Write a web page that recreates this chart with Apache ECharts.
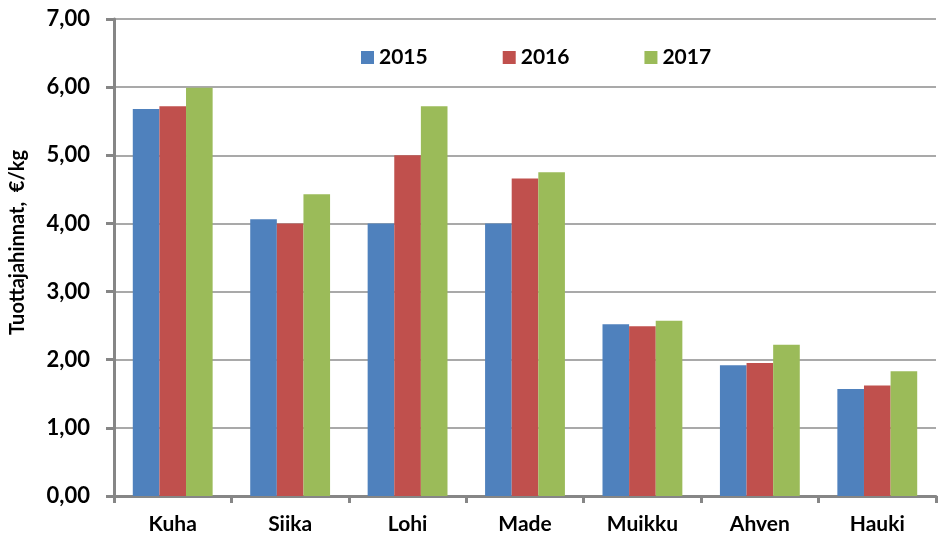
<!DOCTYPE html>
<html>
<head>
<meta charset="utf-8">
<script src="https://cdn.jsdelivr.net/npm/echarts@6/dist/echarts.min.js"></script>
<style>
  html, body { margin: 0; padding: 0; background: #fff; }
  #main { width: 939px; height: 537px; }
</style>
</head>
<body>
<div id="main"></div>
<script>
// kalalajit ja tuottajahinnat (€/kg)
var lajit = ["Kuha", "Siika", "Lohi", "Made", "Muikku", "Ahven", "Hauki"];
var vuodet = ["2015", "2016", "2017"];
var hinnat2015 = [5.68, 4.06, 4.00, 4.00, 2.52, 1.92, 1.57];
var hinnat2016 = [5.72, 4.00, 5.00, 4.66, 2.49, 1.95, 1.62];
var hinnat2017 = [5.99, 4.43, 5.72, 4.75, 2.57, 2.22, 1.83];
var varit = ["#4F81BD", "#C0504D", "#9BBB59"];

var fontti = "Lato, 'Open Sans', sans-serif";

var myChart = echarts.init(document.getElementById("main"));

function sarja(nimi, data) {
  return {
    name: nimi,
    type: "bar",
    data: data,
    barGap: "0%",
    barCategoryGap: "32%"
  };
}

var option = {
  animation: false,
  color: varit,
  textStyle: { fontFamily: fontti },
  grid: { left: 114, right: 3, top: 19, bottom: 41, containLabel: false },
  legend: {
    data: vuodet,
    left: 356,
    top: 42,
    itemWidth: 13,
    itemHeight: 13,
    itemGap: 75,
    icon: "rect",
    textStyle: { fontSize: 21, fontWeight: "bold", color: "#000", fontFamily: fontti }
  },
  xAxis: {
    type: "category",
    data: lajit,
    axisLine: { lineStyle: { color: "#868686", width: 3 } },
    axisTick: { show: true, length: 7, lineStyle: { color: "#868686", width: 3 } },
    axisLabel: { margin: 18, fontSize: 21, fontWeight: "bold", color: "#000", fontFamily: fontti }
  },
  yAxis: {
    type: "value",
    min: 0,
    max: 7,
    interval: 1,
    name: "Tuottajahinnat,  €/kg",
    nameLocation: "middle",
    nameGap: 86,
    nameTextStyle: {
      fontSize: 20,
      fontWeight: "bold",
      color: "#000",
      fontFamily: fontti,
      padding: [0, 0, 0, 30]
    },
    axisLine: { show: true, lineStyle: { color: "#868686", width: 3 } },
    axisTick: { show: true, length: 8, lineStyle: { color: "#868686", width: 3 } },
    splitLine: { lineStyle: { color: "#8c8c8c", width: 1.5 } },
    axisLabel: {
      margin: 24,
      fontSize: 22,
      fontWeight: "bold",
      color: "#000",
      fontFamily: fontti,
      formatter: function (v) { return v.toFixed(2).replace(".", ","); }
    }
  },
  series: [
    sarja("2015", hinnat2015),
    sarja("2016", hinnat2016),
    sarja("2017", hinnat2017)
  ]
};

myChart.setOption(option);
</script>
</body>
</html>
